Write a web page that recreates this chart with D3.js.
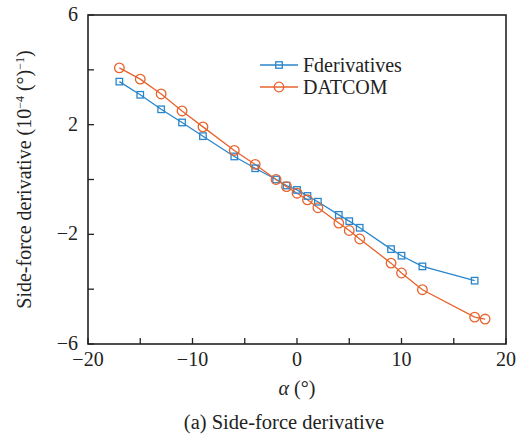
<!doctype html>
<html lang="en">
<head>
<meta charset="utf-8">
<title>Side-force derivative</title>
<script src="https://cdnjs.cloudflare.com/ajax/libs/d3/7.8.5/d3.min.js"></script>
<style>
  body { margin: 0; background: #fff; }
  svg text { font-family: "Liberation Serif", "Times New Roman", serif; fill: #222; }
</style>
</head>
<body>
<script>
// angle of attack (deg)
var alphaF = [-17, -15, -13, -11, -9, -6, -4, -2, -1, 0, 1, 2, 4, 5, 6, 9, 10, 12, 17];
var fderiv = [3.57, 3.09, 2.56, 2.08, 1.58, 0.84, 0.41, 0.0, -0.22, -0.38, -0.6, -0.81, -1.29, -1.52, -1.76, -2.54, -2.78, -3.17, -3.69];

var alphaD = [-17, -15, -13, -11, -9, -6, -4, -2, -1, 0, 1, 2, 4, 5, 6, 9, 10, 12, 17, 18];
var datcom = [4.07, 3.66, 3.12, 2.5, 1.92, 1.06, 0.55, 0.0, -0.26, -0.5, -0.74, -1.03, -1.59, -1.86, -2.17, -3.05, -3.41, -4.02, -5.02, -5.09];

var xTicks = [-20, -15, -10, -5, 0, 5, 10, 15, 20];
var xLabels = [-20, -10, 0, 10, 20];
var yTicks = [-6, -4, -2, 0, 2, 4, 6];
var yLabels = [-6, -2, 2, 6];

var W = 522, H = 439;
var m = {left: 88, right: 16, top: 15, bottom: 95};

var blue = "#2a86cc", orange = "#e8632d";

var svg = d3.select("body").append("svg")
    .attr("width", W)
    .attr("height", H);

var x = d3.scaleLinear().domain([-20, 20]).range([m.left, W - m.right]);
var y = d3.scaleLinear().domain([-6, 6]).range([H - m.bottom, m.top]);

// frame
svg.append("rect")
    .attr("x", x(-20)).attr("y", y(6))
    .attr("width", x(20) - x(-20)).attr("height", y(-6) - y(6))
    .attr("fill", "none").attr("stroke", "#222").attr("stroke-width", 1.6);

// ticks pointing inward
var tk = 6;
svg.selectAll(".xt").data(xTicks).enter().append("line")
    .attr("x1", d => x(d)).attr("x2", d => x(d))
    .attr("y1", y(-6)).attr("y2", y(-6) - tk)
    .attr("stroke", "#222").attr("stroke-width", 1.3);
svg.selectAll(".yt").data(yTicks).enter().append("line")
    .attr("x1", x(-20)).attr("x2", x(-20) + tk)
    .attr("y1", d => y(d)).attr("y2", d => y(d))
    .attr("stroke", "#222").attr("stroke-width", 1.3);

var fmt = d => d < 0 ? "\u2212" + Math.abs(d) : String(d);

svg.selectAll(".xl").data(xLabels).enter().append("text")
    .attr("x", d => x(d)).attr("y", y(-6) + 22)
    .attr("text-anchor", "middle")
    .style("font-size", "20px")
    .text(fmt);
svg.selectAll(".yl").data(yLabels).enter().append("text")
    .attr("x", x(-20) - 10).attr("y", d => y(d) + 6)
    .attr("text-anchor", "end")
    .style("font-size", "20px")
    .text(fmt);

// axis titles
svg.append("text")
    .attr("x", x(0)).attr("y", 395)
    .attr("text-anchor", "middle")
    .style("font-size", "20px")
    .html('<tspan font-style="italic">\u03b1</tspan> (\u00b0)');

svg.append("text")
    .attr("transform", "translate(31," + y(0) + ") rotate(-90)")
    .attr("text-anchor", "middle")
    .style("font-size", "20px")
    .html('Side-force derivative (10<tspan dy="-7" font-size="12px">\u22124</tspan><tspan dy="7"> (\u00b0)</tspan><tspan dy="-7" font-size="12px">\u22121</tspan><tspan dy="7">)</tspan>');

svg.append("text")
    .attr("x", 284).attr("y", 429)
    .attr("text-anchor", "middle")
    .style("font-size", "20.5px")
    .text("(a) Side-force derivative");

// series
var line = d3.line().x(d => x(d[0])).y(d => y(d[1]));
var ptsF = alphaF.map((a, i) => [a, fderiv[i]]);
var ptsD = alphaD.map((a, i) => [a, datcom[i]]);

svg.append("path").datum(ptsF).attr("d", line)
    .attr("fill", "none").attr("stroke", blue).attr("stroke-width", 1.3);
svg.append("path").datum(ptsD).attr("d", line)
    .attr("fill", "none").attr("stroke", orange).attr("stroke-width", 1.3);

var sq = 6.5;
svg.selectAll(".sq").data(ptsF).enter().append("rect")
    .attr("x", d => x(d[0]) - sq / 2).attr("y", d => y(d[1]) - sq / 2)
    .attr("width", sq).attr("height", sq)
    .attr("fill", "none").attr("stroke", blue).attr("stroke-width", 1.3);
svg.selectAll(".ci").data(ptsD).enter().append("circle")
    .attr("cx", d => x(d[0])).attr("cy", d => y(d[1])).attr("r", 4.8)
    .attr("fill", "none").attr("stroke", orange).attr("stroke-width", 1.3);

// legend
var lg = svg.append("g");
[["Fderivatives", blue, "sq"], ["DATCOM", orange, "ci"]].forEach(function (s, i) {
    var ly = 65 + i * 22;
    lg.append("line").attr("x1", 260).attr("x2", 298).attr("y1", ly).attr("y2", ly)
        .attr("stroke", s[1]).attr("stroke-width", 1.3);
    if (s[2] === "sq") {
        lg.append("rect").attr("x", 279 - sq / 2).attr("y", ly - sq / 2)
            .attr("width", sq).attr("height", sq)
            .attr("fill", "none").attr("stroke", s[1]).attr("stroke-width", 1.3);
    } else {
        lg.append("circle").attr("cx", 279).attr("cy", ly).attr("r", 4.8)
            .attr("fill", "none").attr("stroke", s[1]).attr("stroke-width", 1.3);
    }
    lg.append("text").attr("x", 303).attr("y", ly + 7)
        .style("font-size", "20px")
        .text(s[0]);
});
</script>
</body>
</html>
